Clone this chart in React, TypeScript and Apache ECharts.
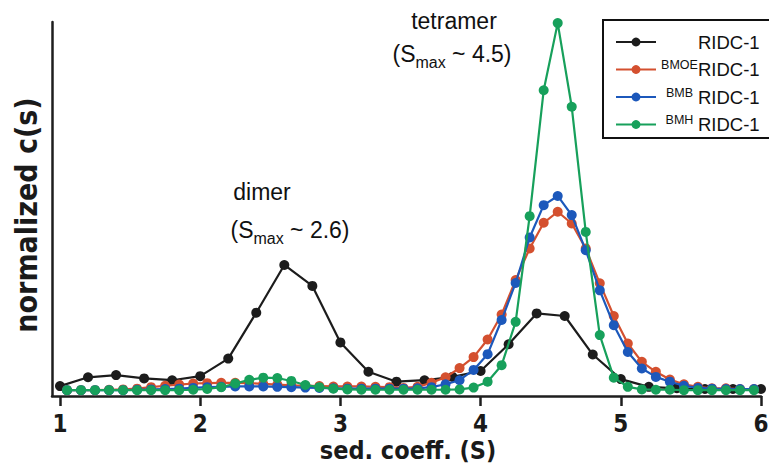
import React, { useEffect, useRef } from "react";
import * as echarts from "echarts";

// ---- data ----
const sBlack = [1.0, 1.2, 1.4, 1.6, 1.8, 2.0, 2.2, 2.4, 2.6, 2.8, 3.0, 3.2, 3.4, 3.6, 3.8, 4.0, 4.2, 4.4, 4.6, 4.8, 5.0, 5.2, 5.4, 5.6, 5.8, 6.0];
const ridc1 = [0.011, 0.035, 0.041, 0.032, 0.027, 0.038, 0.086, 0.211, 0.341, 0.284, 0.130, 0.050, 0.023, 0.027, 0.036, 0.052, 0.125, 0.209, 0.202, 0.097, 0.030, 0.009, 0.005, 0.003, 0.003, 0.003];

const sGrid = [1.05, 1.15, 1.25, 1.35, 1.45, 1.55, 1.65, 1.75, 1.85, 1.95, 2.05, 2.15, 2.25, 2.35, 2.45, 2.55, 2.65, 2.75, 2.85, 2.95, 3.05, 3.15, 3.25, 3.35, 3.45, 3.55, 3.65, 3.75, 3.85, 3.95, 4.05, 4.15, 4.25, 4.35, 4.45, 4.55, 4.65, 4.75, 4.85, 4.95, 5.05, 5.15, 5.25, 5.35, 5.45, 5.55, 5.65, 5.75, 5.85, 5.95];
const bmoe = [0, 0, 0, 0.001, 0.002, 0.004, 0.008, 0.012, 0.015, 0.018, 0.019, 0.02, 0.02, 0.019, 0.017, 0.015, 0.013, 0.012, 0.011, 0.01, 0.01, 0.01, 0.009, 0.008, 0.006, 0.009, 0.02, 0.035, 0.06, 0.09, 0.138, 0.206, 0.3, 0.386, 0.456, 0.486, 0.454, 0.386, 0.291, 0.202, 0.127, 0.077, 0.05, 0.029, 0.016, 0.009, 0.005, 0.005, 0.003, 0.003];
const bmb = [0, 0, 0, 0, 0, 0.001, 0.002, 0.003, 0.004, 0.006, 0.008, 0.009, 0.01, 0.01, 0.01, 0.009, 0.008, 0.007, 0.006, 0.005, 0.004, 0.004, 0.004, 0.004, 0.004, 0.005, 0.008, 0.016, 0.027, 0.055, 0.098, 0.191, 0.292, 0.416, 0.504, 0.529, 0.477, 0.381, 0.272, 0.177, 0.104, 0.059, 0.036, 0.023, 0.012, 0.006, 0.004, 0.003, 0.003, 0.003];
const bmh = [0, 0, 0, 0, 0, 0, 0, 0, 0, 0.001, 0.003, 0.008, 0.018, 0.028, 0.034, 0.033, 0.025, 0.014, 0.008, 0.004, 0.002, 0.001, 0.001, 0.001, 0.001, 0.001, 0.001, 0.001, 0.002, 0.007, 0.023, 0.068, 0.186, 0.474, 0.817, 1.0, 0.772, 0.431, 0.15, 0.034, 0.009, 0.002, 0.001, 0.001, 0, 0, 0, 0, 0, 0];

const tickValues = [1, 2, 3, 4, 5, 6];
const seriesNames = ["RIDC-1", "BMOE", "BMB", "BMH"];
const seriesColors = ["#1c1c1c", "#d4502f", "#1c58bb", "#17a05b"];

const FONT_NARROW = '"Liberation Sans Narrow", "Arial Narrow", "DejaVu Sans Condensed", "Liberation Sans", Arial, sans-serif';
const FONT = '"Liberation Sans", Arial, Helvetica, sans-serif';

function pairs(xs: number[], ys: number[]) {
  return xs.map((x, i) => [x, ys[i]]);
}

export default function App() {
  const ref = useRef<HTMLDivElement>(null);
  useEffect(() => {
    if (!ref.current) return;
    const chart = echarts.init(ref.current, undefined, { renderer: "svg" });
    const datasets = [pairs(sBlack, ridc1), pairs(sGrid, bmoe), pairs(sGrid, bmb), pairs(sGrid, bmh)];
    const annRich = {
      sub: { fontSize: 16, fontFamily: FONT, padding: [16, 0, 0, 0], fill: "#111" },
    };
    chart.setOption({
      animation: false,
      backgroundColor: "#ffffff",
      grid: { left: 52, right: 8, top: 22, bottom: 72, containLabel: false, outerBoundsMode: "none" },
      xAxis: {
        type: "value",
        min: 0.943,
        max: 6.0,
        axisLine: { show: true, onZero: false, lineStyle: { color: "#1e1e1e", width: 2.5 } },
        axisTick: { show: true, customValues: tickValues, length: 10, lineStyle: { color: "#1e1e1e", width: 2.5 } },
        axisLabel: { customValues: tickValues, margin: 16, fontFamily: FONT_NARROW, fontWeight: "bold", fontSize: 24, color: "#1a1a1a" },
        splitLine: { show: false },
      },
      yAxis: {
        type: "value",
        min: -0.016,
        max: 1.003,
        axisLine: { show: true, onZero: false, lineStyle: { color: "#1e1e1e", width: 2.5 } },
        axisTick: { show: false },
        axisLabel: { show: false },
        splitLine: { show: false },
      },
      legend: {
        left: 603,
        top: 20,
        orient: "vertical",
        align: "left",
        padding: [11, 20, 4, 12],
        itemGap: 7,
        itemWidth: 40,
        itemHeight: 11,
        borderColor: "#111",
        borderWidth: 2,
        borderRadius: 0,
        data: seriesNames,
        formatter: (name: string) => {
          const sup = name === "RIDC-1" ? "" : name;
          return "{sup|" + sup + "}{main|RIDC-1}";
        },
        textStyle: {
          fontFamily: FONT,
          fontSize: 18,
          color: "#111",
          rich: {
            sup: { fontSize: 12.5, width: 37, align: "right", verticalAlign: "top", lineHeight: 22, fontFamily: FONT, color: "#111" },
            main: { fontSize: 18.5, lineHeight: 22, fontFamily: FONT, color: "#111" },
          },
        },
      },
      graphic: [
        {
          type: "text",
          x: 26,
          y: 215,
          rotation: Math.PI / 2,
          style: { text: "normalized c(s)", fontFamily: FONT_NARROW, fontWeight: "bold", fontSize: 30, fill: "#1a1a1a", textAlign: "center", textVerticalAlign: "middle" },
        },
        {
          type: "text",
          x: 408,
          y: 450,
          style: { text: "sed. coeff. (S)", fontFamily: FONT_NARROW, fontWeight: "bold", fontSize: 25, fill: "#1a1a1a", textAlign: "center", textVerticalAlign: "middle" },
        },
        { type: "text", x: 454, y: 9, style: { text: "tetramer", fontFamily: FONT, fontSize: 23, fill: "#111", textAlign: "center" } },
        { type: "text", x: 452, y: 38, style: { text: "(S{sub|max} ~ 4.5)", rich: annRich, fontFamily: FONT, fontSize: 23, fill: "#111", textAlign: "center" } },
        { type: "text", x: 262, y: 180, style: { text: "dimer", fontFamily: FONT, fontSize: 23, fill: "#111", textAlign: "center" } },
        { type: "text", x: 290, y: 214, style: { text: "(S{sub|max} ~ 2.6)", rich: annRich, fontFamily: FONT, fontSize: 23, fill: "#111", textAlign: "center" } },
      ],
      series: seriesNames.map((n, i) => ({
        name: n,
        type: "line",
        data: datasets[i],
        symbol: "circle",
        symbolSize: 10,
        showSymbol: true,
        color: seriesColors[i],
        lineStyle: { width: 2.2, color: seriesColors[i] },
        itemStyle: { color: seriesColors[i] },
        z: 2 + i,
      })),
    });
    return () => chart.dispose();
  }, []);
  return <div ref={ref} style={{ position: "fixed", left: 0, top: 0, width: 769, height: 468 }} />;
}
